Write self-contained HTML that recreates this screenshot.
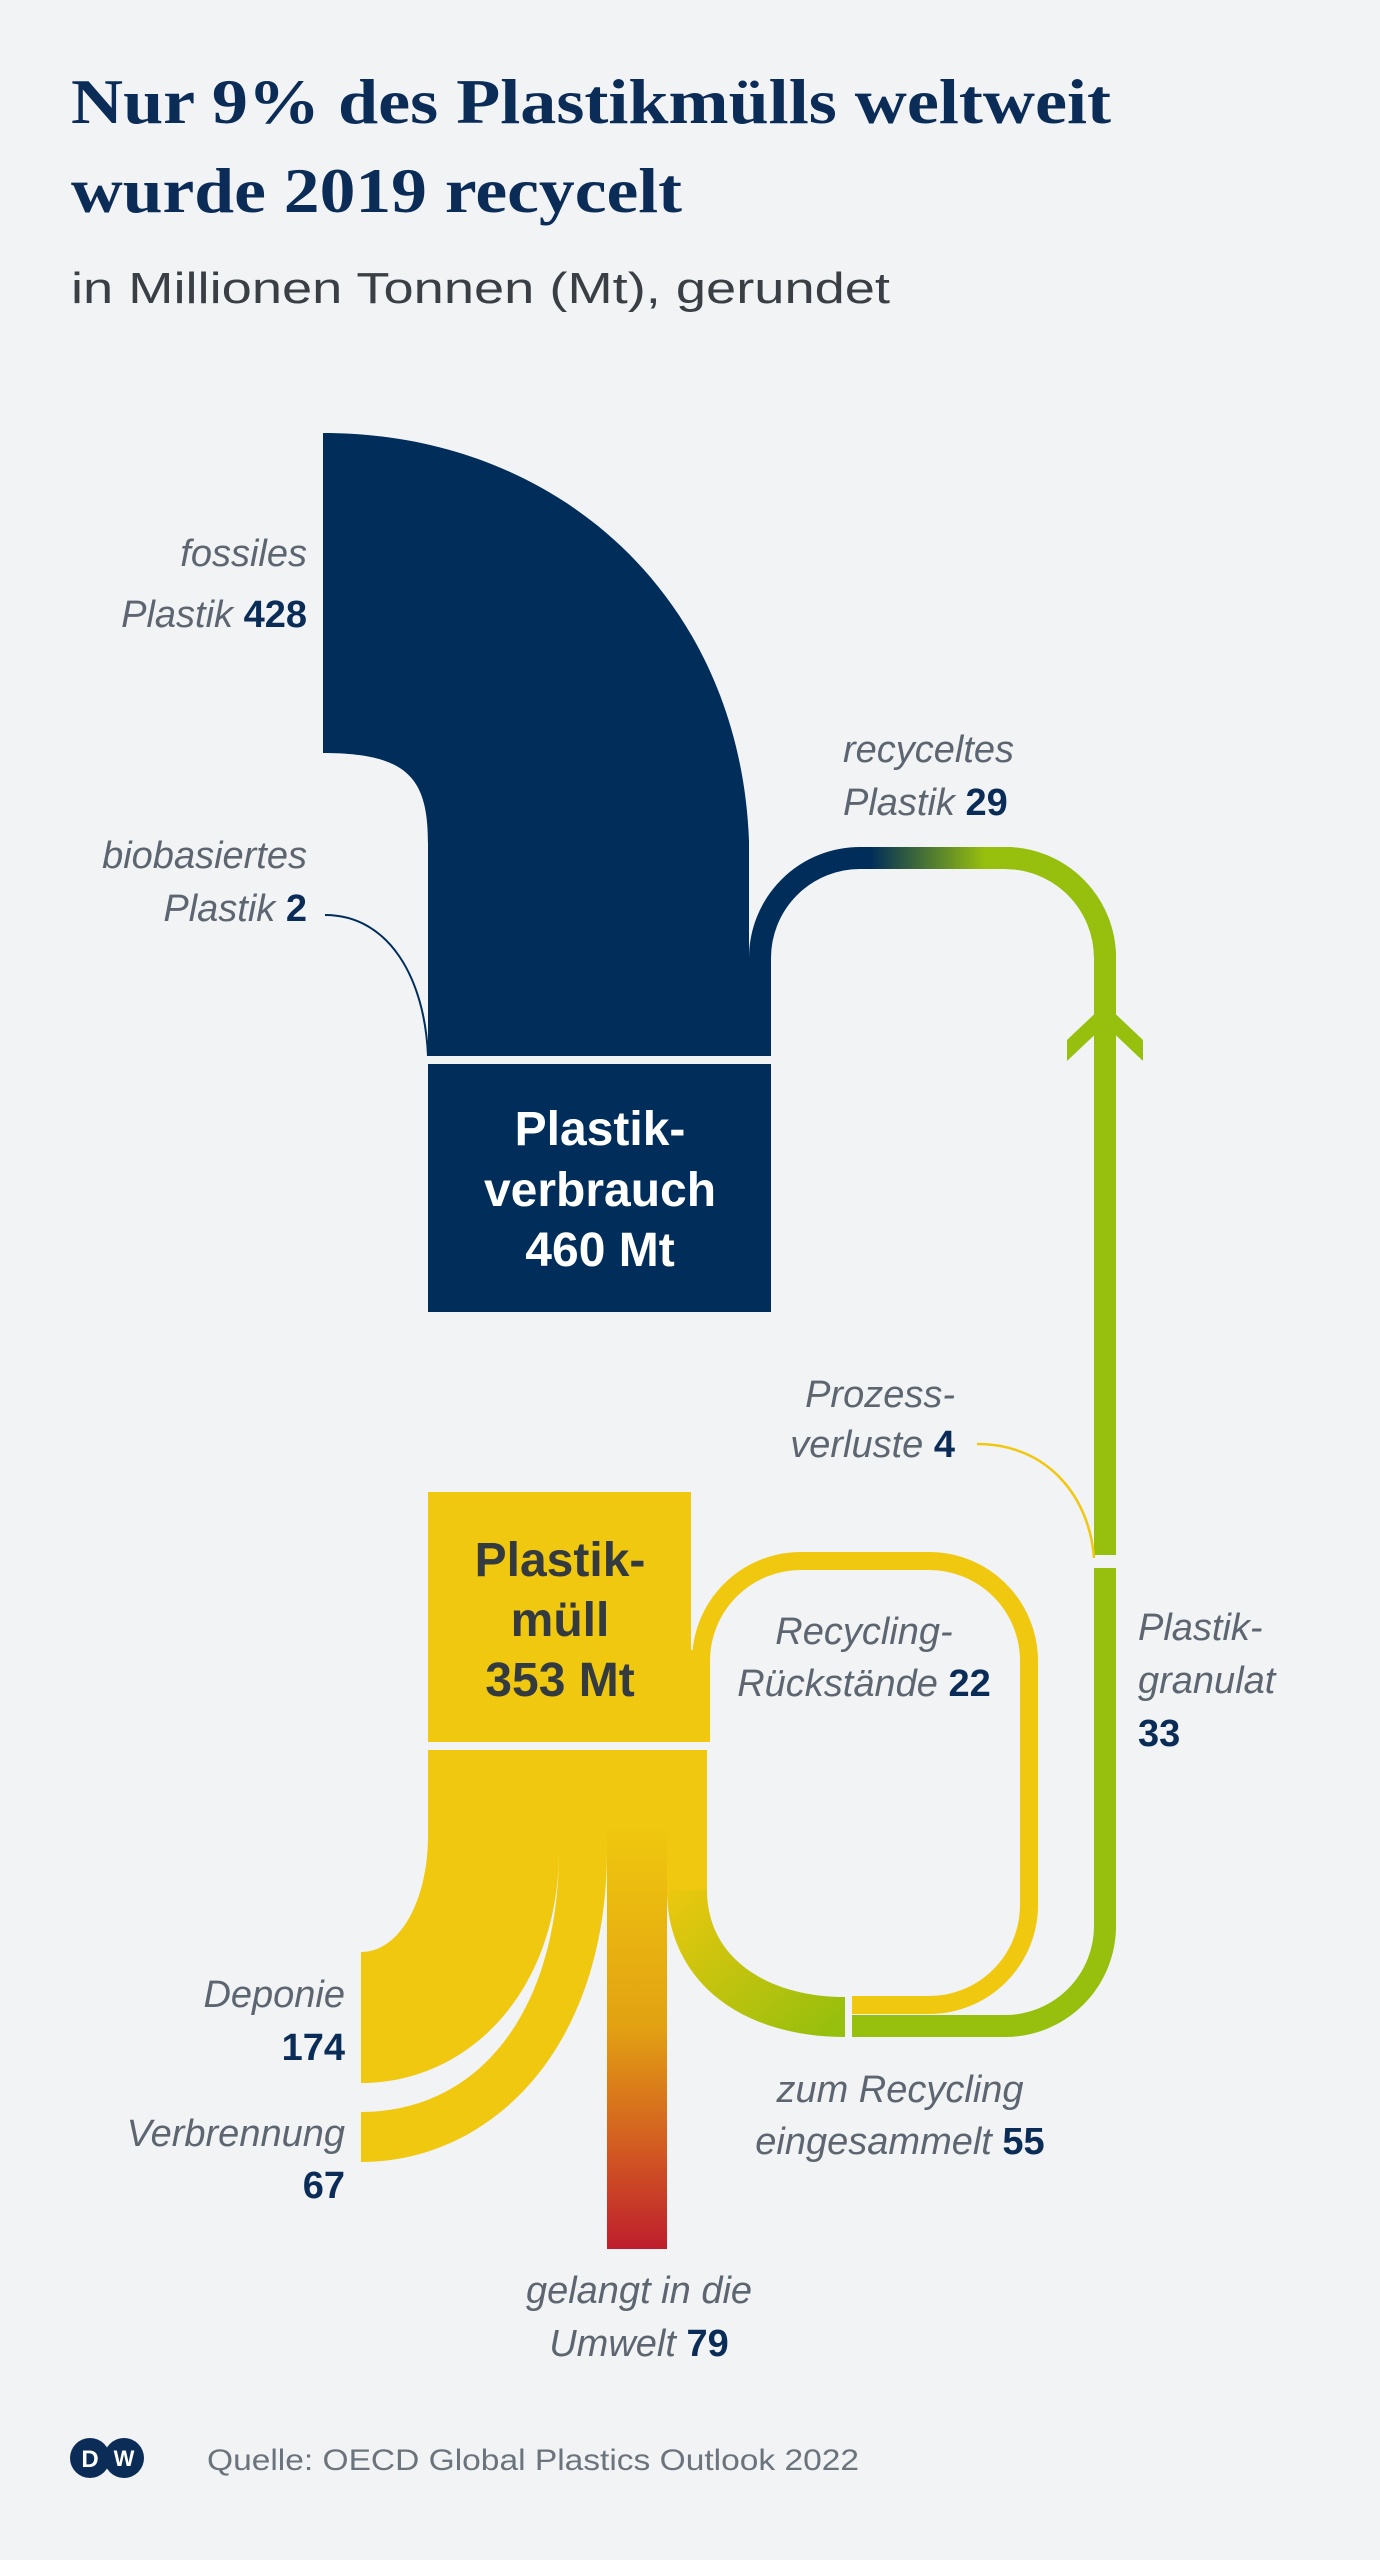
<!DOCTYPE html>
<html><head><meta charset="utf-8"><style>
html,body{margin:0;padding:0;background:#f1f3f5;}
svg{display:block;}
.lab{font-family:"Liberation Sans",sans-serif;font-style:italic;font-size:38px;fill:#5d6670;}
.num{font-style:normal;font-weight:bold;fill:#0b2c56;}
</style></head><body>
<svg width="1380" height="2560" viewBox="0 0 1380 2560" xmlns="http://www.w3.org/2000/svg">
<defs>
<linearGradient id="rec" gradientUnits="userSpaceOnUse" x1="870" y1="0" x2="985" y2="0">
<stop offset="0" stop-color="#002d5a"/><stop offset="1" stop-color="#97bf0d"/></linearGradient>
<linearGradient id="env" gradientUnits="userSpaceOnUse" x1="0" y1="1750" x2="0" y2="2249">
<stop offset="0.15" stop-color="#f0c80f"/><stop offset="0.55" stop-color="#e2a212"/><stop offset="0.8" stop-color="#d25a22"/><stop offset="1" stop-color="#be1e2d"/></linearGradient>
<linearGradient id="col" gradientUnits="userSpaceOnUse" x1="690" y1="1860" x2="830" y2="2030">
<stop offset="0" stop-color="#f0c80f"/><stop offset="1" stop-color="#97bf0d"/></linearGradient>
</defs>
<text x="71" y="123" font-family="Liberation Serif,serif" font-weight="bold" font-size="64" fill="#0b2c56" textLength="1040" lengthAdjust="spacingAndGlyphs">Nur 9% des Plastikmülls weltweit</text>
<text x="71" y="212" font-family="Liberation Serif,serif" font-weight="bold" font-size="64" fill="#0b2c56" textLength="611" lengthAdjust="spacingAndGlyphs">wurde 2019 recycelt</text>
<text x="71" y="303" font-family="Liberation Sans,sans-serif" font-size="44" fill="#3a3f45" textLength="819" lengthAdjust="spacingAndGlyphs">in Millionen Tonnen (Mt), gerundet</text>

<!-- navy consumption -->
<path d="M323,433 C560,433 740,600 749,841 L749,1056 L428,1056 L428,844 C428,780 410,753 323,753 Z" fill="#002d5a"/>
<rect x="749" y="962" width="22" height="94" fill="#002d5a"/>
<path d="M760,975 L760,958 A100,100 0 0 1 860,858 L1005,858 A100,100 0 0 1 1105,958 L1105,1555" fill="none" stroke="url(#rec)" stroke-width="22"/>
<path d="M1005,858 A100,100 0 0 1 1105,958 L1105,1555" fill="none" stroke="#97bf0d" stroke-width="22"/>
<polygon points="1105,1004 1143,1040 1143,1061 1105,1025 1067,1061 1067,1040" fill="#97bf0d"/>
<rect x="428" y="1064" width="343" height="248" fill="#002d5a"/>
<g font-family="Liberation Sans,sans-serif" font-weight="bold" font-size="48" fill="#fff" text-anchor="middle">
<text x="600" y="1145">Plastik-</text><text x="600" y="1206">verbrauch</text><text x="600" y="1266">460 Mt</text></g>
<path d="M325,915 C390,915 425,980 428,1056" fill="none" stroke="#002d5a" stroke-width="2"/>

<!-- green lower -->
<path d="M1105,1568 L1105,1926 A100,100 0 0 1 1005,2026 L852,2026" fill="none" stroke="#97bf0d" stroke-width="22"/>
<path d="M977,1444 C1050,1444 1090,1500 1094,1558" fill="none" stroke="#f0c80f" stroke-width="2.5"/>
<!-- yellow loop -->
<path d="M701,1700 L701,1661 A100,100 0 0 1 801,1561 L929,1561 A100,100 0 0 1 1029,1661 L1029,1905 A100,100 0 0 1 929,2005 L852,2005" fill="none" stroke="#f0c80f" stroke-width="18"/>
<rect x="428" y="1492" width="263" height="250" fill="#f0c80f"/>
<rect x="691" y="1650" width="19" height="92" fill="#f0c80f"/>
<g font-family="Liberation Sans,sans-serif" font-weight="bold" font-size="48" fill="#333a40" text-anchor="middle">
<text x="560" y="1576">Plastik-</text><text x="560" y="1636">müll</text><text x="560" y="1696">353 Mt</text></g>

<!-- lower flows -->
<path d="M428,1750 L559,1750 L559,1850 C559,1990 470,2083 361,2083 L361,1952 C400,1952 428,1900 428,1836 Z" fill="#f0c80f"/>
<path d="M559,1750 L607,1750 L607,1850 C607,2050 490,2162 361,2162 L361,2112 C480,2112 559,2010 559,1850 Z" fill="#f0c80f"/>
<rect x="607" y="1750" width="60" height="499" fill="url(#env)"/>
<rect x="607" y="1750" width="60" height="55" fill="#f0c80f"/>
<path d="M667,1750 L707,1750 L707,1890 C707,1960 770,1997 845,1997 L845,2037 C740,2037 667,1980 667,1890 Z" fill="url(#col)"/>
<rect x="667" y="1750" width="40" height="140" fill="#f0c80f"/>

<!-- labels -->
<g class="lab" text-anchor="end">
<text x="307" y="566">fossiles</text>
<text x="307" y="627">Plastik <tspan class="num">428</tspan></text>
<text x="307" y="868">biobasiertes</text>
<text x="307" y="921">Plastik <tspan class="num">2</tspan></text>
<text x="955" y="1407">Prozess-</text>
<text x="955" y="1457">verluste <tspan class="num">4</tspan></text>
<text x="345" y="2007">Deponie</text>
<text x="345" y="2060" class="num" style="font-weight:bold;fill:#0b2c56">174</text>
<text x="345" y="2146">Verbrennung</text>
<text x="345" y="2198" class="num" style="font-weight:bold;fill:#0b2c56">67</text>
</g>
<g class="lab">
<text x="843" y="762">recyceltes</text>
<text x="843" y="815">Plastik <tspan class="num">29</tspan></text>
<text x="1138" y="1640">Plastik-</text>
<text x="1138" y="1693">granulat</text>
<text x="1138" y="1746" class="num" style="font-weight:bold;fill:#0b2c56">33</text>
</g>
<g class="lab" text-anchor="middle">
<text x="864" y="1644">Recycling-</text>
<text x="864" y="1696">Rückstände <tspan class="num">22</tspan></text>
<text x="900" y="2102">zum Recycling</text>
<text x="900" y="2154">eingesammelt <tspan class="num">55</tspan></text>
<text x="639" y="2303">gelangt in die</text>
<text x="639" y="2356">Umwelt <tspan class="num">79</tspan></text>
</g>

<!-- footer -->
<circle cx="90" cy="2458" r="20" fill="#0b2c56"/>
<circle cx="124" cy="2458" r="20" fill="#0b2c56"/>
<text x="90" y="2467" font-family="Liberation Sans,sans-serif" font-weight="bold" font-size="24" fill="#fff" text-anchor="middle">D</text>
<text x="124" y="2466" font-family="Liberation Sans,sans-serif" font-weight="bold" font-size="22" fill="#fff" text-anchor="middle">W</text>
<text x="207" y="2470" font-family="Liberation Sans,sans-serif" font-size="30" fill="#6b737c" textLength="652" lengthAdjust="spacingAndGlyphs">Quelle: OECD Global Plastics Outlook 2022</text>
</svg>
</body></html>
